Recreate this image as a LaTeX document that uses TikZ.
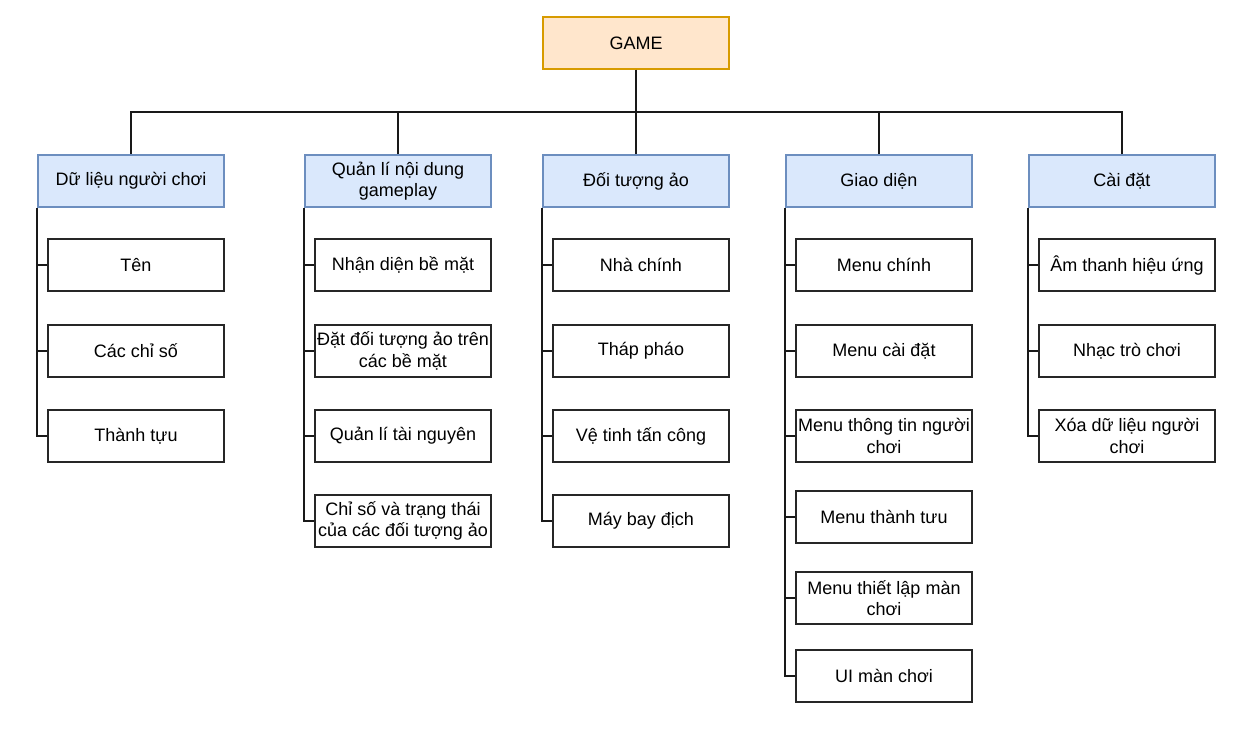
\documentclass[tikz,border=0pt]{standalone}
\usepackage{fontspec}
\setmainfont{Liberation Sans}
\definecolor{rootfill}{HTML}{FFE6CC}
\definecolor{rootline}{HTML}{D79B00}
\definecolor{groupfill}{HTML}{DAE8FC}
\definecolor{groupline}{HTML}{6C8EBF}

\begin{document}
\begin{tikzpicture}[x=0.75pt,y=-0.75pt,line width=1.5pt,
    font=\fontsize{13.5}{16}\selectfont,
    root/.style={draw=rootline,fill=rootfill,minimum width=140pt,minimum height=38.5pt,inner sep=0pt,align=center},
    group/.style={draw=groupline,fill=groupfill,minimum width=140pt,minimum height=39pt,inner sep=0pt,align=center},
    leaf/.style={draw=black!85,minimum width=132.5pt,minimum height=38.5pt,inner sep=0pt,align=center},
    link/.style={draw=black!90}]
    \useasboundingbox (0,0) rectangle (1257,744);

    \node[root] (game) at (636,43) {GAME};
    \coordinate (bus) at (636,112);

    \node[group] (dulieu) at (131,181) {Dữ liệu người chơi};
    \node[group] (quanli) at (398,181) {Quản lí nội dung\\gameplay};
    \node[group] (doituong) at (636,181) {Đối tượng ảo};
    \node[group] (giaodien) at (879,181) {Giao diện};
    \node[group] (caidat) at (1122,181) {Cài đặt};

    \draw[link] (game) -- (bus);
    \foreach \g in {dulieu,quanli,doituong,giaodien,caidat}
        \draw[link] (\g.north) |- (bus);

    \foreach \y/\t [count=\i] in {265/Tên,351/Các chỉ số,436/Thành tựu} {
        \node[leaf] (dulieu-\i) at (136,\y) {\t};
        \draw[link] (dulieu.south west) |- (dulieu-\i.west);
    }
    \foreach \y/\t [count=\i] in {265/Nhận diện bề mặt,351/{Đặt đối tượng ảo trên\\các bề mặt},436/Quản lí tài nguyên,521/{Chỉ số và trạng thái\\của các đối tượng ảo}} {
        \node[leaf] (quanli-\i) at (403,\y) {\t};
        \draw[link] (quanli.south west) |- (quanli-\i.west);
    }
    \foreach \y/\t [count=\i] in {265/Nhà chính,351/Tháp pháo,436/Vệ tinh tấn công,521/Máy bay địch} {
        \node[leaf] (doituong-\i) at (641,\y) {\t};
        \draw[link] (doituong.south west) |- (doituong-\i.west);
    }
    \foreach \y/\t [count=\i] in {265/Menu chính,351/Menu cài đặt,436/{Menu thông tin người\\chơi},517/Menu thành tưu,598/{Menu thiết lập màn\\chơi},676/UI màn chơi} {
        \node[leaf] (giaodien-\i) at (884,\y) {\t};
        \draw[link] (giaodien.south west) |- (giaodien-\i.west);
    }
    \foreach \y/\t [count=\i] in {265/Âm thanh hiệu ứng,351/Nhạc trò chơi,436/{Xóa dữ liệu người\\chơi}} {
        \node[leaf] (caidat-\i) at (1127,\y) {\t};
        \draw[link] (caidat.south west) |- (caidat-\i.west);
    }
\end{tikzpicture}
\end{document}
